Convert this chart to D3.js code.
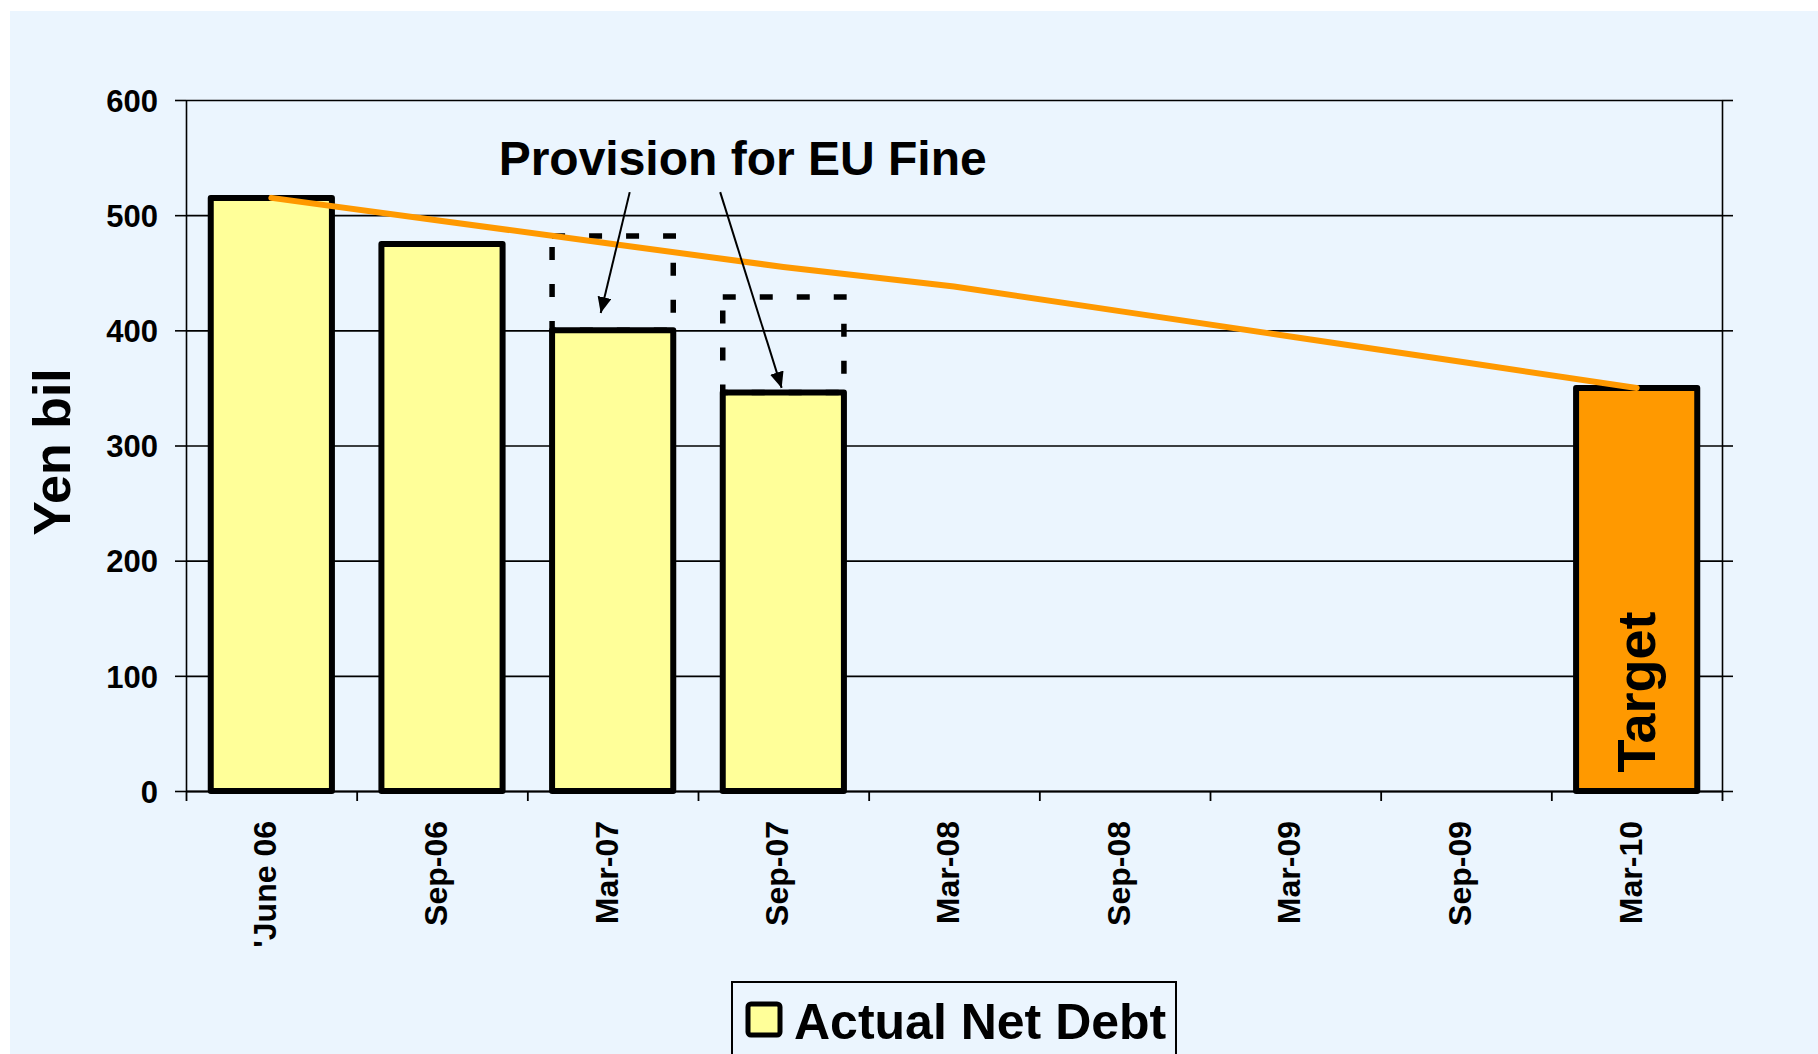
<!DOCTYPE html>
<html>
<head>
<meta charset="utf-8">
<script src="https://cdn.jsdelivr.net/npm/d3@7"></script>
<style>
  body { margin: 0; background: #fff; }
  text { font-family: "Liberation Sans", Arial, sans-serif; font-weight: bold; fill: #000; }
</style>
</head>
<body>
<svg id="chart" width="1818" height="1054"></svg>
<script>
// Net debt bars with EU fine provision and the trend line to the target.

const categories  = ["'June 06", "Sep-06", "Mar-07", "Sep-07", "Mar-08", "Sep-08", "Mar-09", "Sep-09", "Mar-10"];
const actualDebt  = [515, 475, 400, 346, null, null, null, null, null];
const euProvision = [null, null, 82, 83, null, null, null, null, null];
const targetDebt  = [null, null, null, null, null, null, null, null, 350];
const trendLine   = [515, 495, 475, 455, 438, 416, 394, 372, 350];
const yTicks      = [0, 100, 200, 300, 400, 500, 600];

// arrows: [category, offset in steps from band centre, value]
const arrowFrom = [["Mar-07", 0.10, 520], ["Sep-07", -0.37, 520]];
const arrowTo   = [["Mar-07", -0.07, 415], ["Sep-07", -0.01, 350]];

const width = 1818, height = 1054;
const margin = { top: 100, right: 96, bottom: 263, left: 186 };
const innerWidth  = width  - margin.left - margin.right;
const innerHeight = height - margin.top  - margin.bottom;

const svg = d3.select("#chart");

svg.append("rect")
  .attr("x", 10).attr("y", 11)
  .attr("width", width - 10).attr("height", height - 11)
  .attr("fill", "#ebf5fe");

const xScale = d3.scaleBand()
  .domain(categories)
  .range([0, innerWidth])
  .paddingInner(0.29).paddingOuter(0.145);

const edgeScale = d3.scaleLinear()
  .domain([0, categories.length])
  .range([0, innerWidth]);

const yScale = d3.scaleLinear()
  .domain([0, 600])
  .range([innerHeight, 0]);

const cx = d => xScale(d) + xScale.bandwidth() / 2;

const inner = svg.append("g")
  .attr("transform", `translate(${margin.left}, ${margin.top})`);

// gridlines
inner.append("g")
  .call(d3.axisLeft(yScale).tickValues(yTicks).tickSize(-innerWidth).tickFormat(""))
  .call(g => g.select(".domain").remove())
  .call(g => g.selectAll("line").attr("stroke", "#000").attr("stroke-width", 1.6));

// left axis with labels
inner.append("g")
  .call(d3.axisLeft(yScale).tickValues(yTicks).tickSize(11).tickSizeOuter(0).tickPadding(17))
  .call(g => g.select(".domain").attr("stroke-width", 1.6))
  .call(g => g.selectAll("line").attr("stroke-width", 1.6))
  .call(g => g.selectAll("text")
    .attr("font-size", 31)
    .attr("font-family", "'Liberation Sans', Arial, sans-serif")
    .attr("font-weight", "bold")
    .attr("dy", "0.36em"));

// right axis
inner.append("g")
  .attr("transform", `translate(${innerWidth}, 0)`)
  .call(d3.axisRight(yScale).tickValues(yTicks).tickSize(11).tickSizeOuter(0).tickFormat(""))
  .call(g => g.selectAll("line, path").attr("stroke-width", 1.6));

// bottom axis, ticks at band edges
inner.append("g")
  .attr("transform", `translate(0, ${innerHeight})`)
  .call(d3.axisBottom(edgeScale).tickValues(d3.range(categories.length + 1)).tickSize(10).tickSizeOuter(0).tickFormat(""))
  .call(g => g.selectAll("line, path").attr("stroke-width", 1.8));

// category labels
inner.append("g")
  .selectAll("text")
  .data(categories).join("text")
  .attr("transform", d => `translate(${cx(d) + 5}, ${innerHeight + 30}) rotate(-90)`)
  .attr("text-anchor", "end")
  .attr("font-size", 32)
  .text(d => d);

// actual net debt bars
const barData = categories.map((c, i) => ({ c, v: actualDebt[i], p: euProvision[i], t: targetDebt[i] }));

inner.append("g")
  .selectAll("rect")
  .data(barData.filter(d => d.v != null)).join("rect")
  .attr("x", d => xScale(d.c))
  .attr("y", d => yScale(d.v))
  .attr("width", xScale.bandwidth())
  .attr("height", d => yScale(0) - yScale(d.v))
  .attr("fill", "#ffff99")
  .attr("stroke", "#000").attr("stroke-width", 6)
  .attr("stroke-linejoin", "round");

// target bar
inner.append("g")
  .selectAll("rect")
  .data(barData.filter(d => d.t != null)).join("rect")
  .attr("x", d => xScale(d.c))
  .attr("y", d => yScale(d.t))
  .attr("width", xScale.bandwidth())
  .attr("height", d => yScale(0) - yScale(d.t))
  .attr("fill", "#ff9900")
  .attr("stroke", "#000").attr("stroke-width", 6)
  .attr("stroke-linejoin", "round");

inner.append("text")
  .attr("transform", `translate(${cx("Mar-10") + 18}, ${yScale(16)}) rotate(-90)`)
  .attr("font-size", 54)
  .text("Target");

// provision boxes (dashed)
inner.append("g")
  .selectAll("rect")
  .data(barData.filter(d => d.p != null)).join("rect")
  .attr("x", d => xScale(d.c))
  .attr("y", d => yScale(d.v + d.p))
  .attr("width", xScale.bandwidth())
  .attr("height", d => yScale(d.v) - yScale(d.v + d.p))
  .attr("fill", "none")
  .attr("stroke", "#000").attr("stroke-width", 5.5)
  .attr("stroke-dasharray", "13,24");

// trend line to target
const line = d3.line()
  .x((d, i) => cx(categories[i]))
  .y(d => yScale(d));

inner.append("path")
  .datum(trendLine)
  .attr("d", line)
  .attr("fill", "none")
  .attr("stroke", "#ff9900")
  .attr("stroke-width", 6)
  .attr("stroke-linecap", "round");

// annotation
svg.append("defs").append("marker")
  .attr("id", "head")
  .attr("viewBox", "0 -7 16 14")
  .attr("refX", 16).attr("refY", 0)
  .attr("markerUnits", "userSpaceOnUse")
  .attr("markerWidth", 16).attr("markerHeight", 14)
  .attr("orient", "auto")
  .append("path")
  .attr("d", "M0,-7L16,0L0,7Z")
  .attr("fill", "#000");

const ax = a => cx(a[0]) + a[1] * xScale.step();

inner.append("g")
  .selectAll("line")
  .data(arrowFrom.map((f, i) => [f, arrowTo[i]])).join("line")
  .attr("x1", d => ax(d[0])).attr("y1", d => yScale(d[0][2]))
  .attr("x2", d => ax(d[1])).attr("y2", d => yScale(d[1][2]))
  .attr("stroke", "#000").attr("stroke-width", 2)
  .attr("marker-end", "url(#head)");

inner.append("text")
  .attr("x", cx("Mar-07") + 130)
  .attr("y", yScale(535))
  .attr("text-anchor", "middle")
  .attr("font-size", 48)
  .text("Provision for EU Fine");

// y title
svg.append("text")
  .attr("transform", "translate(70, 452) rotate(-90)")
  .attr("text-anchor", "middle")
  .attr("font-size", 52)
  .text("Yen bil");

// legend
const legend = svg.append("g");
legend.append("rect")
  .attr("x", 732).attr("y", 982)
  .attr("width", 444).attr("height", 120)
  .attr("fill", "none")
  .attr("stroke", "#000").attr("stroke-width", 2);
legend.append("rect")
  .attr("x", 748).attr("y", 1004)
  .attr("width", 32).attr("height", 31)
  .attr("rx", 3)
  .attr("fill", "#ffff99")
  .attr("stroke", "#000").attr("stroke-width", 5);
legend.append("text")
  .attr("x", 794).attr("y", 1039)
  .attr("font-size", 50)
  .text("Actual Net Debt");
</script>
</body>
</html>
